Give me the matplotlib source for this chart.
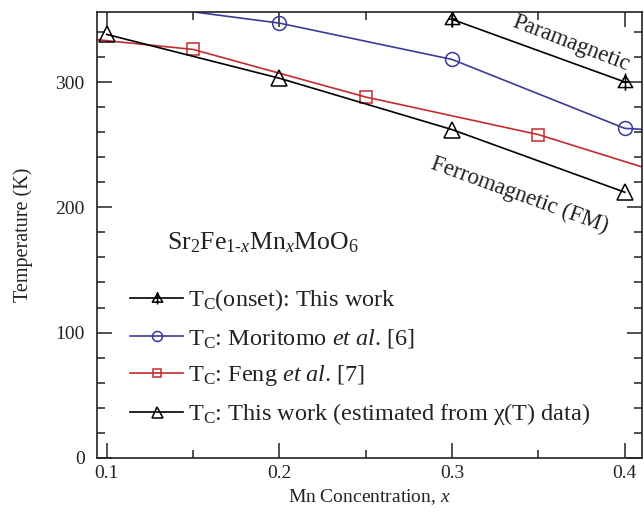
import matplotlib
matplotlib.use('Agg')
import matplotlib.pyplot as plt
import numpy as np
from matplotlib.path import Path
from matplotlib.ticker import MultipleLocator

plt.rcParams['font.family'] = ['Liberation Serif', 'DejaVu Serif']
plt.rcParams['mathtext.fontset'] = 'custom'
plt.rcParams['mathtext.rm'] = 'Liberation Serif'
plt.rcParams['mathtext.it'] = 'Liberation Serif:italic'

# data
x_onset = [0.3, 0.4]
t_onset = [350, 300]

x_mori = [0.1, 0.2, 0.3, 0.4, 0.5]
t_mori = [365, 347, 318, 263, 255]

x_feng = [0.05, 0.15, 0.25, 0.35, 0.45]
t_feng = [340, 326, 288, 258, 215]

x_chi = [0.1, 0.2, 0.3, 0.4]
t_chi = [338, 303, 262, 212]

xticks = [0.1, 0.2, 0.3, 0.4]
yticks = [0, 100, 200, 300]

blue = '#3a3a98'
red = '#c42a2e'
txt = '#222222'

# triangle with a cross through it
verts = [(-1, -0.7), (1, -0.7), (0, 0.95), (-1, -0.7),
         (0, -1.15), (0, 1.25),
         (-0.6, 0.05), (0.6, 0.05)]
codes = [Path.MOVETO, Path.LINETO, Path.LINETO, Path.CLOSEPOLY,
         Path.MOVETO, Path.LINETO,
         Path.MOVETO, Path.LINETO]
crossed_tri = Path(verts, codes)

fig = plt.figure(figsize=(6.44, 5.15), dpi=100)
ax = fig.add_axes([0.151, 0.111, 0.846, 0.866])

kw = dict(lw=1.2, mfc='none', mew=1.1)
ax.plot(x_onset, t_onset, color='black', marker=crossed_tri, ms=13, **kw,
        label=r'T$_\mathrm{C}$(onset): This work')
ax.plot(x_mori, t_mori, color=blue, marker='o', ms=10, **kw,
        label=r'T$_\mathrm{C}$: Moritomo $et\ al$. [6]')
ax.plot(x_feng, t_feng, color=red, marker='s', ms=8, **kw,
        label=r'T$_\mathrm{C}$: Feng $et\ al$. [7]')
ax.plot(x_chi, t_chi, color='black', marker='^', ms=11, **kw,
        label=r'T$_\mathrm{C}$: This work (estimated from χ(T) data)')

ax.set_xlim(0.0945, 0.41)
ax.set_ylim(0, 356)
ax.set_xticks(xticks)
ax.set_xticklabels([str(v) for v in xticks])
ax.set_yticks(yticks)
ax.xaxis.set_minor_locator(MultipleLocator(0.05))
ax.yaxis.set_minor_locator(MultipleLocator(20))
ax.tick_params(which='both', direction='in', top=True, right=True, labelsize=14,
               width=1.1, colors='#222222')
ax.tick_params(which='major', length=11)
ax.tick_params(which='minor', length=6)
ax.tick_params(axis='x', which='major', pad=5)
ax.tick_params(axis='y', which='major', pad=9)
for s in ax.spines.values():
    s.set_linewidth(1.2)
    s.set_color('#222222')

ax.set_xlabel(r'Mn Concentration, $x$', fontsize=14, labelpad=4, color=txt)
ax.set_ylabel('Temperature (K)', fontsize=14.5, labelpad=16, color=txt)

ax.text(0.369, 331, 'Paramagnetic', rotation=-21, fontsize=16.5,
        ha='center', va='center', color=txt)
ax.text(0.339, 210, 'Ferromagnetic (FM)', rotation=-20, fontsize=16.5,
        ha='center', va='center', color=txt)
ax.text(0.135, 172, r'Sr$_2$Fe$_{1\text{-}x}$Mn$_x$MoO$_6$', fontsize=18.5,
        ha='left', va='center', color=txt)

leg = ax.legend(loc='upper left', bbox_to_anchor=(0.043, 0.404), frameon=False,
                fontsize=17.5, handlelength=2.18, handletextpad=0.2,
                labelspacing=0.55, borderaxespad=0, borderpad=0.4,
                markerscale=0.72)
for t in leg.get_texts():
    t.set_color(txt)

fig.savefig('out.png', dpi=100)
